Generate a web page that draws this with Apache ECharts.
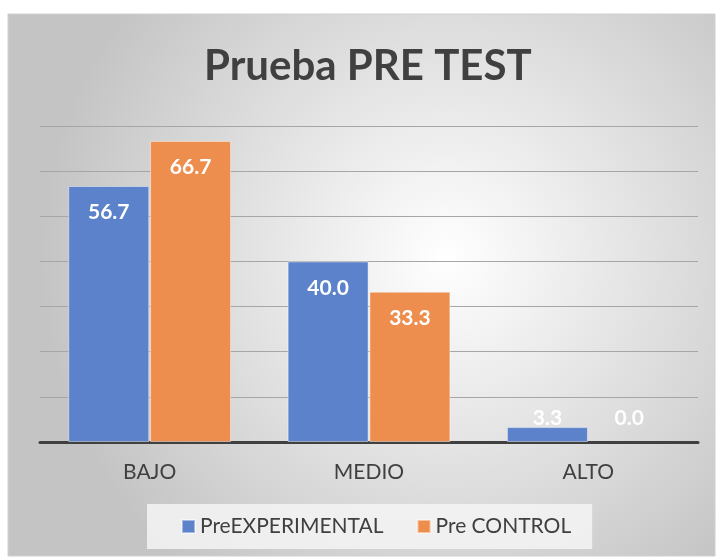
<!DOCTYPE html>
<html>
<head>
<meta charset="utf-8">
<title>Prueba PRE TEST</title>
<script src="https://cdn.jsdelivr.net/npm/echarts@6/dist/echarts.min.js"></script>
<style>
  html, body { margin: 0; padding: 0; background: #fff; }
  #main { width: 716px; height: 557px; }
</style>
</head>
<body>
<div id="main"></div>
<script>
// datos del gráfico
var categorias = ['BAJO', 'MEDIO', 'ALTO'];
var preExperimental = [56.7, 40.0, 3.3];
var preControl = [66.7, 33.3, 0.0];
var nombresSeries = ['PreEXPERIMENTAL', 'Pre CONTROL'];

var fuente = 'Lato';
var colorTexto = '#404040';

// etiqueta dentro de la barra; si la barra es muy baja se pone encima del eje
function etiquetas(valores) {
  return valores.map(function (v) {
    if (v < 10) {
      return {
        value: v,
        label: { position: 'insideBottom', distance: 13 },
        // sin borde para que la barra en 0 no deje una línea
        itemStyle: { borderWidth: v === 0 ? 0 : 1 }
      };
    }
    return v;
  });
}

var chart = echarts.init(document.getElementById('main'));

var option = {
  animation: false,
  backgroundColor: '#fff',
  // fondo del área del gráfico (degradado radial como en Excel)
  graphic: [
    {
      type: 'rect',
      z: -10,
      silent: true,
      shape: { x: 8, y: 14, width: 707, height: 542 },
      style: {
        fill: new echarts.graphic.RadialGradient(0.62, 0.45, 0.75, [
          { offset: 0, color: '#ffffff' },
          { offset: 1, color: '#c4c4c4' }
        ]),
        stroke: '#d0d0d0',
        lineWidth: 1
      }
    }
  ],
  title: {
    text: 'Prueba PRE TEST',
    left: 199,
    top: 40,
    textStyle: {
      fontFamily: fuente,
      fontWeight: 'bold',
      fontSize: 42,
      color: colorTexto
    }
  },
  legend: {
    data: nombresSeries,
    left: 147,
    top: 504,
    padding: [12, 21, 12, 34],
    backgroundColor: 'rgba(245,245,245,0.85)',
    itemGap: 33,
    itemWidth: 13,
    itemHeight: 13,
    icon: 'rect',
    textStyle: {
      fontFamily: fuente,
      fontSize: 21,
      color: colorTexto
    }
  },
  grid: {
    left: 40,
    right: 18,
    top: 126,
    bottom: 115
  },
  xAxis: {
    type: 'category',
    data: categorias,
    axisTick: { show: false },
    axisLine: { lineStyle: { color: '#404040', width: 3 } },
    axisLabel: {
      margin: 20,
      fontFamily: fuente,
      fontSize: 21,
      color: colorTexto
    }
  },
  yAxis: {
    type: 'value',
    min: 0,
    max: 70,
    interval: 10,
    axisLabel: { show: false },
    axisLine: { show: false },
    axisTick: { show: false },
    splitLine: { lineStyle: { color: '#a6a6a6', width: 1 } }
  },
  series: [
    {
      name: nombresSeries[0],
      type: 'bar',
      data: etiquetas(preExperimental),
      barWidth: 81,
      barGap: '1%',
      itemStyle: {
        color: '#5b82cb',
        borderColor: 'rgba(255,255,255,0.45)',
        borderWidth: 1
      },
      label: {
        show: true,
        position: 'insideTop',
        distance: 16,
        formatter: function (p) { return p.value.toFixed(1); },
        fontFamily: fuente,
        fontWeight: 'bold',
        fontSize: 21,
        color: '#fff'
      }
    },
    {
      name: nombresSeries[1],
      type: 'bar',
      data: etiquetas(preControl),
      barWidth: 81,
      itemStyle: {
        color: '#ee8e4e',
        borderColor: 'rgba(255,255,255,0.45)',
        borderWidth: 1
      },
      label: {
        show: true,
        position: 'insideTop',
        distance: 16,
        formatter: function (p) { return p.value.toFixed(1); },
        fontFamily: fuente,
        fontWeight: 'bold',
        fontSize: 21,
        color: '#fff'
      }
    }
  ]
};

chart.setOption(option);
</script>
</body>
</html>
